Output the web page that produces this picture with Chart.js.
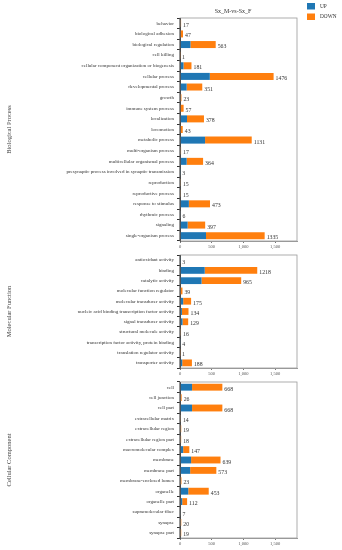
<!DOCTYPE html>
<html>
<head>
<meta charset="utf-8">
<script src="https://cdn.jsdelivr.net/npm/chart.js@4"></script>
<style>
body { margin: 0; background: #fff; width: 342px; height: 550px; position: relative; overflow: hidden; }
.p { position: absolute; left: 0; width: 342px; }
</style>
</head>
<body>
<div class="p" style="top:0;height:253px"><canvas id="bp"></canvas></div>
<div class="p" style="top:249px;height:131px"><canvas id="mf"></canvas></div>
<div class="p" style="top:376px;height:174px"><canvas id="cc"></canvas></div>
<script>
const chartTitle = 'Sx_M-vs-Sx_F';
const seriesNames = ['UP', 'DOWN'];
const xTicks = [0, 500, 1000, 1500];
const xMax = 1845;

// Biological Process
const bpTerms = ['behavior', 'biological adhesion', 'biological regulation', 'cell killing',
    'cellular component organization or biogenesis', 'cellular process', 'developmental process',
    'growth', 'immune system process', 'localization', 'locomotion', 'metabolic process',
    'multi-organism process', 'multicellular organismal process',
    'presynaptic process involved in synaptic transmission', 'reproduction', 'reproductive process',
    'response to stimulus', 'rhythmic process', 'signaling', 'single-organism process'];
const bpTotal = [17, 47, 563, 1, 181, 1476, 351, 23, 57, 378, 43, 1131, 17, 364, 3, 15, 15, 473, 6, 397, 1335];
const bpUp = [2, 5, 165, 0, 55, 470, 105, 4, 8, 110, 6, 395, 3, 105, 1, 3, 3, 140, 1, 120, 410];

// Molecular Function
const mfTerms = ['antioxidant activity', 'binding', 'catalytic activity', 'molecular function regulator',
    'molecular transducer activity', 'nucleic acid binding transcription factor activity',
    'signal transducer activity', 'structural molecule activity',
    'transcription factor activity, protein binding', 'translation regulator activity', 'transporter activity'];
const mfTotal = [3, 1218, 965, 39, 175, 134, 129, 16, 4, 1, 188];
const mfUp = [1, 390, 340, 6, 50, 30, 40, 3, 1, 0, 35];

// Cellular Component
const ccTerms = ['cell', 'cell junction', 'cell part', 'extracellular matrix', 'extracellular region',
    'extracellular region part', 'macromolecular complex', 'membrane', 'membrane part',
    'membrane-enclosed lumen', 'organelle', 'organelle part', 'supramolecular fiber', 'synapse', 'synapse part'];
const ccTotal = [668, 26, 668, 14, 19, 18, 147, 639, 573, 23, 453, 112, 7, 20, 19];
const ccUp = [190, 4, 190, 3, 4, 4, 50, 175, 160, 5, 130, 35, 2, 3, 3];

const colors = ['#1f77b4', '#ff7f0e'];
const serif = 'Liberation Serif';

// box round each panel
const frame = {
    id: 'frame',
    afterDraw: (chart) => {
        const {left, top, right, bottom} = chart.chartArea;
        const ctx = chart.ctx;
        ctx.save();
        ctx.strokeStyle = '#999';
        ctx.lineWidth = 0.8;
        ctx.strokeRect(left, top, right - left, bottom - top);
        ctx.strokeStyle = '#333';
        ctx.beginPath();
        ctx.moveTo(left, top);
        ctx.lineTo(left, bottom);
        ctx.stroke();
        ctx.restore();
    }
};

// total count at the end of each bar
const totals = {
    id: 'totals',
    afterDatasetsDraw: (chart, args, opts) => {
        const ctx = chart.ctx;
        const meta = chart.getDatasetMeta(1);
        ctx.save();
        ctx.font = '5.8px "' + serif + '"';
        ctx.fillStyle = '#333';
        ctx.textBaseline = 'middle';
        meta.data.forEach((bar, i) => {
            ctx.fillText(String(opts.values[i]), bar.x + 2, bar.y + 2);
        });
        ctx.restore();
    }
};

// title and legend above the first panel
const head = {
    id: 'head',
    afterDraw: (chart) => {
        const ctx = chart.ctx;
        ctx.save();
        ctx.fillStyle = '#333';
        ctx.font = '6px "' + serif + '"';
        ctx.textAlign = 'center';
        ctx.textBaseline = 'middle';
        ctx.fillText(chartTitle, 233, 11);
        ctx.textAlign = 'left';
        ctx.font = '5.3px "' + serif + '"';
        chart.data.datasets.forEach((ds, i) => {
            const y = 3 + i * 10.5;
            ctx.fillStyle = ds.backgroundColor;
            ctx.fillRect(307, y, 8, 6.5);
            ctx.fillStyle = '#333';
            ctx.fillText(ds.label, 320, y + 3.3);
        });
        ctx.restore();
    }
};

function panel(id, terms, total, up, groupName, padTop, first) {
    const down = total.map((t, i) => t - up[i]);
    return new Chart(document.getElementById(id), {
        type: 'bar',
        data: {
            labels: terms,
            datasets: [{
                label: seriesNames[0],
                data: up,
                backgroundColor: colors[0]
            }, {
                label: seriesNames[1],
                data: down,
                backgroundColor: colors[1]
            }]
        },
        plugins: first ? [frame, totals, head] : [frame, totals],
        options: {
            indexAxis: 'y',
            responsive: true,
            maintainAspectRatio: false,
            animation: false,
            layout: {
                padding: {top: padTop, left: 0, right: 45, bottom: 0}
            },
            datasets: {
                bar: {barPercentage: 0.66, categoryPercentage: 1}
            },
            plugins: {
                legend: {display: false},
                tooltip: {enabled: false},
                totals: {values: total}
            },
            scales: {
                x: {
                    stacked: true,
                    min: 0,
                    max: xMax,
                    afterBuildTicks: (s) => { s.ticks = xTicks.map(v => ({value: v})); },
                    afterFit: (s) => { s.height = 12; },
                    grid: {drawOnChartArea: false, tickLength: 2, color: '#777'},
                    border: {color: '#999'},
                    ticks: {
                        font: {family: serif, size: 4.5},
                        color: '#555',
                        padding: 1,
                        maxRotation: 0
                    }
                },
                y: {
                    stacked: true,
                    afterFit: (s) => { s.width = 180; },
                    grid: {drawOnChartArea: false, tickLength: 3, color: '#333'},
                    border: {color: '#333'},
                    ticks: {
                        font: {family: serif, size: 5},
                        color: '#333',
                        padding: 3,
                        autoSkip: false
                    },
                    title: {
                        display: true,
                        text: groupName,
                        font: {family: serif, size: 6.5},
                        color: '#444',
                        padding: {top: 5, bottom: 0}
                    }
                }
            }
        }
    });
}

panel('bp', bpTerms, bpTotal, bpUp, 'Biological Process', 18, true);
panel('mf', mfTerms, mfTotal, mfUp, 'Molecular Function', 2, false);
panel('cc', ccTerms, ccTotal, ccUp, 'Cellular Component', 2, false);
</script>
</body>
</html>
